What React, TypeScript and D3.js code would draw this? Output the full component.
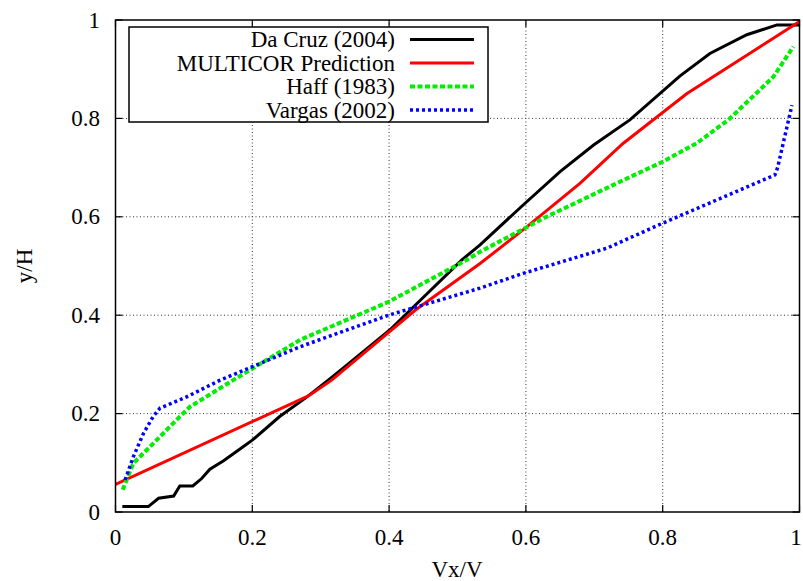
import React from "react";
import * as d3 from "d3";

const daCruzX = [0.01, 0.048, 0.063, 0.085, 0.094, 0.113, 0.126, 0.138, 0.158, 0.182, 0.2, 0.24, 0.28, 0.311, 0.335, 0.401, 0.506, 0.533, 0.596, 0.65, 0.699, 0.752, 0.825, 0.869, 0.923, 0.967, 1.0];
const daCruzY = [0.011, 0.011, 0.028, 0.0325, 0.053, 0.053, 0.068, 0.087, 0.104, 0.128, 0.146, 0.194, 0.234, 0.268, 0.295, 0.37, 0.512, 0.543, 0.624, 0.692, 0.746, 0.797, 0.886, 0.932, 0.97, 0.99, 0.99];

const multicorX = [0.0, 0.282, 0.316, 0.438, 0.533, 0.599, 0.679, 0.742, 0.835, 1.0];
const multicorY = [0.056, 0.236, 0.268, 0.41, 0.505, 0.577, 0.668, 0.749, 0.85, 0.997];

const haffX = [0.0105, 0.026, 0.06, 0.094, 0.109, 0.172, 0.27, 0.399, 0.513, 0.533, 0.63, 0.728, 0.8, 0.85, 0.896, 0.942, 0.962, 0.991];
const haffY = [0.045, 0.099, 0.146, 0.194, 0.214, 0.268, 0.35, 0.427, 0.512, 0.529, 0.6, 0.665, 0.712, 0.75, 0.797, 0.858, 0.885, 0.946];

const vargasX = [0.014, 0.026, 0.041, 0.055, 0.065, 0.104, 0.153, 0.27, 0.399, 0.533, 0.596, 0.718, 0.8, 0.964, 0.968, 0.989];
const vargasY = [0.065, 0.112, 0.16, 0.194, 0.211, 0.234, 0.268, 0.336, 0.4, 0.455, 0.485, 0.536, 0.587, 0.685, 0.7, 0.827];

const tickValues = [0, 0.2, 0.4, 0.6, 0.8, 1];
const tickLabels = ["0", "0.2", "0.4", "0.6", "0.8", "1"];

const seriesNames = ["Da Cruz (2004)", "MULTICOR Prediction", "Haff (1983)", "Vargas (2002)"];

const W = 803, H = 581;
const left = 115.5, right = 799.5, top = 20, bottom = 512;
const FONT = "Liberation Serif, DejaVu Serif, serif";
const txt: React.CSSProperties = { fontFamily: FONT, fontSize: 23 };

export default function App() {
  const x = d3.scaleLinear().domain([0, 1]).range([left, right]);
  const y = d3.scaleLinear().domain([0, 1]).range([bottom, top]);
  const line = d3.line<[number, number]>().x(d => x(d[0])).y(d => y(d[1]));
  const zip = (a: number[], b: number[]) => a.map((v, i) => [v, b[i]] as [number, number]);

  const series = [
    { name: seriesNames[0], d: zip(daCruzX, daCruzY), color: "#000000", w: 3, dash: undefined as string | undefined },
    { name: seriesNames[1], d: zip(multicorX, multicorY), color: "#ff0000", w: 3, dash: undefined },
    { name: seriesNames[2], d: zip(haffX, haffY), color: "#00ee00", w: 4, dash: "5,2.5" },
    { name: seriesNames[3], d: zip(vargasX, vargasY), color: "#0000ff", w: 3.5, dash: "3,3" },
  ];

  const grid = tickValues.filter(v => v > 0 && v < 1);
  const legendRowsY = [39.5, 63, 86.5, 110];

  return (
    <svg width={W} height={H} style={{ position: "absolute", left: 0, top: 0, background: "#fff" }}>
      <rect x={0} y={0} width={W} height={H} fill="#fff" />
      <defs>
        <clipPath id="plotclip">
          <rect x={left} y={top} width={right - left} height={bottom - top} />
        </clipPath>
      </defs>
      {grid.map(v => (
        <g key={"g" + v}>
          <line x1={x(v)} x2={x(v)} y1={top} y2={bottom} stroke="#333" strokeWidth={1} strokeDasharray="1,2.5" />
          <line x1={left} x2={right} y1={y(v)} y2={y(v)} stroke="#333" strokeWidth={1} strokeDasharray="1,2.5" />
        </g>
      ))}
      {tickValues.map(v => (
        <g key={"t" + v}>
          <line x1={x(v)} x2={x(v)} y1={bottom} y2={bottom - 7} stroke="#000" strokeWidth={1.2} />
          <line x1={x(v)} x2={x(v)} y1={top} y2={top + 7} stroke="#000" strokeWidth={1.2} />
          <line x1={left} x2={left + 7} y1={y(v)} y2={y(v)} stroke="#000" strokeWidth={1.2} />
          <line x1={right} x2={right - 7} y1={y(v)} y2={y(v)} stroke="#000" strokeWidth={1.2} />
        </g>
      ))}
      {tickValues.map((v, i) => (
        <text key={"xl" + v} x={Math.min(x(v), W - 7)} y={545} textAnchor="middle" style={txt}>{tickLabels[i]}</text>
      ))}
      {tickValues.map((v, i) => (
        <text key={"yl" + v} x={100} y={y(v) + 7.5} textAnchor="end" style={txt}>{tickLabels[i]}</text>
      ))}
      <g clipPath="url(#plotclip)">
        {series.map(s => (
          <path key={s.name} d={line(s.d) || ""} fill="none" stroke={s.color} strokeWidth={s.w}
            strokeDasharray={s.dash} strokeLinejoin="miter" strokeLinecap="butt" />
        ))}
      </g>
      <rect x={left} y={top} width={right - left} height={bottom - top} fill="none" stroke="#000" strokeWidth={1.5} />
      <rect x={129} y={27} width={359} height={95} fill="#fff" stroke="#000" strokeWidth={1.5} />
      {series.map((s, i) => (
        <g key={"lg" + i}>
          <text x={395} y={legendRowsY[i] + 7.5} textAnchor="end" style={txt}>{s.name}</text>
          <line x1={410} x2={474} y1={legendRowsY[i]} y2={legendRowsY[i]} stroke={s.color} strokeWidth={s.w} strokeDasharray={s.dash} />
        </g>
      ))}
      <text x={457} y={577} textAnchor="middle" style={txt}>Vx/V</text>
      <text transform={`translate(32, 266) rotate(-90)`} textAnchor="middle" style={txt}>y/H</text>
    </svg>
  );
}
